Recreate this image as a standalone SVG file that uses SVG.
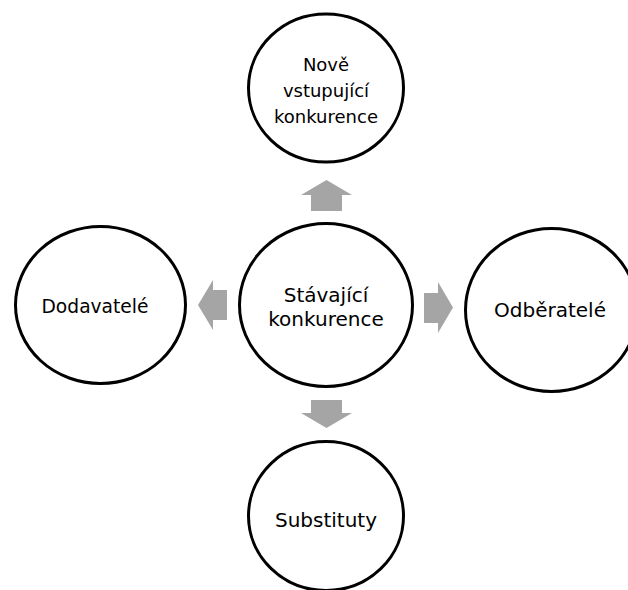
<svg xmlns="http://www.w3.org/2000/svg" width="628" height="590" viewBox="0 0 628 590">
<style>
.node ellipse{fill:#fff;stroke:#000;stroke-width:3}
.node text{font-family:"DejaVu Sans","Liberation Sans",sans-serif;font-size:20px;fill:#000;text-anchor:middle}
.node text.sm{font-size:18px}
.arrow{fill:#A5A5A5}
</style>
<rect width="628" height="590" fill="#fff"/>
<g id="connectors">
<polygon class="arrow" points="311,211 311,195 301,195 326.5,180 352,195 342,195 342,211"/>
<polygon class="arrow" points="311,400 342,400 342,413 352,413 326.5,428 301,413 311,413"/>
<polygon class="arrow" points="424,293 438,293 438,282 453,307.5 438,333 438,323 424,323"/>
<polygon class="arrow" points="227,290 213,290 213,280 198,305 213,330 213,320 227,320"/>
</g>
<g id="node-top" class="node">
<ellipse cx="326" cy="88" rx="77.5" ry="74"/>
<text class="sm" x="326" y="71">Nově</text>
<text class="sm" x="326" y="97">vstupující</text>
<text class="sm" x="326" y="123">konkurence</text>
</g>
<g id="node-center" class="node">
<ellipse cx="326" cy="305" rx="86.5" ry="81.5"/>
<text x="326" y="302">Stávající</text>
<text x="326" y="326">konkurence</text>
</g>
<g id="node-left" class="node">
<ellipse cx="100.5" cy="305" rx="85" ry="78.5"/>
<text x="95" y="313" textLength="107" lengthAdjust="spacingAndGlyphs">Dodavatelé</text>
</g>
<g id="node-right" class="node">
<ellipse cx="551.5" cy="310" rx="86" ry="81.5"/>
<text x="550" y="317">Odběratelé</text>
</g>
<g id="node-bottom" class="node">
<ellipse cx="326" cy="516" rx="77.5" ry="74.5"/>
<text x="326" y="527">Substituty</text>
</g>
</svg>
